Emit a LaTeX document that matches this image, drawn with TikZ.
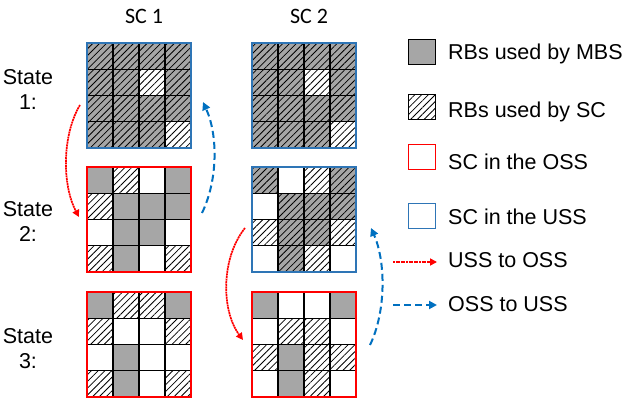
\documentclass[tikz,border=0pt]{standalone}
\usepackage{fontspec}
\setmainfont{Liberation Sans}
\newfontfamily\calib{Carlito}
\usetikzlibrary{patterns.meta,arrows.meta}
\definecolor{mbsgray}{HTML}{A6A6A6}
\definecolor{ussblue}{HTML}{2E75B6}
\definecolor{arrblue}{HTML}{0070C0}
\definecolor{ossred}{HTML}{FF0000}
\tikzset{
  cG/.style={fill=mbsgray},
  cH/.style={pattern={Lines[angle=45,distance=4.8pt,line width=0.8pt]}},
  cX/.style={preaction={fill=mbsgray},pattern={Lines[angle=45,distance=4.8pt,line width=0.8pt]}},
  cW/.style={},
  cellline/.style={draw=black,line width=1.3pt},
  gridbox/.style={rectangle,inner sep=0pt,minimum width=104pt,minimum height=105pt,line width=2pt},
  legbox/.style={rectangle,inner sep=0pt,minimum width=27pt,minimum height=25pt,line width=1pt},
  txt/.style={inner sep=0pt,font=\fontsize{21.5}{25}\selectfont},
  hdr/.style={inner sep=0pt,font=\calib\fontsize{22}{26}\selectfont},
  usstooss/.style={draw=ossred,line width=1.7pt,dash pattern=on 2pt off 0.6pt,-{Triangle[length=7pt,width=7pt]}},
  osstouss/.style={draw=arrblue,line width=2pt,dash pattern=on 7pt off 4pt,-{Triangle[length=8pt,width=8pt]}}
}
\def\cellpath#1{\path[c#1]}
\newcommand\drawgrid[5]{%
  \foreach \ty [count=\ii from 0] in {#5} {
    \pgfmathtruncatemacro\cc{mod(\ii,4)}
    \pgfmathtruncatemacro\rr{int(\ii/4)}
    \expandafter\cellpath\expandafter{\ty} ({#2+26*\cc},{#3+26.25*\rr}) rectangle ++(26,26.25);
  }
  \foreach \kk in {1,2,3} {
    \draw[cellline] ({#2+26*\kk},#3) -- ++(0,105);
    \draw[cellline] (#2,{#3+26.25*\kk}) -- ++(104,0);
  }
  \node[gridbox,draw=#4] (#1) at ({#2+52},{#3+52.5}) {};
}
\begin{document}
\begin{tikzpicture}[x=1pt,y=-1pt]
\useasboundingbox[fill=white] (0,0) rectangle (625,401);
% headers
\node[hdr,anchor=base] (h1) at (144,24) {SC 1};
\node[hdr,anchor=base] (h2) at (309,24) {SC 2};
% state labels
\node[txt,align=center,anchor=base] (s1) at (28,110) {State\\1:};
\node[txt,align=center,anchor=base] (s2) at (28,242) {State\\2:};
\node[txt,align=center,anchor=base] (s3) at (28,369) {State\\3:};
% grids
\drawgrid{g11}{87}{43}{ussblue}{X,X,X,X, X,X,H,X, X,X,X,X, X,X,X,H}
\drawgrid{g12}{252}{43}{ussblue}{X,X,X,X, X,X,H,X, X,X,X,X, X,X,X,H}
\drawgrid{g21}{87}{167}{ossred}{G,H,W,G, H,G,G,G, W,G,G,W, H,G,W,H}
\drawgrid{g22}{252}{167}{ussblue}{X,W,H,X, W,X,X,X, H,X,X,H, W,X,H,W}
\drawgrid{g31}{87}{292}{ossred}{G,H,H,G, H,W,W,H, W,G,W,W, H,G,W,H}
\drawgrid{g32}{252}{292}{ossred}{G,W,W,G, W,H,H,W, H,G,H,H, W,G,H,W}
% transition arrows
\coordinate (a1s) at (80,105);   \coordinate (a1e) at (79,217);
\coordinate (b1s) at (202,213);  \coordinate (b1e) at (203,102);
\coordinate (a2s) at (245,228);  \coordinate (a2e) at (243,340);
\coordinate (b2s) at (370,345);  \coordinate (b2e) at (371,228);
\draw[usstooss] (a1s) .. controls (62,135) and (62,185) .. (a1e);
\draw[osstouss] (b1s) .. controls (218,180) and (218,135) .. (b1e);
\draw[usstooss] (a2s) .. controls (221,258) and (221,310) .. (a2e);
\draw[osstouss] (b2s) .. controls (386,312) and (386,262) .. (b2e);
% legend
\node[legbox,draw=black,fill=mbsgray] (l1) at (421.5,52.5) {};
\node[legbox,draw=black,pattern={Lines[angle=45,distance=4.8pt,line width=0.8pt]}] (l2) at (421.5,107) {};
\node[legbox,draw=ossred] (l3) at (421.5,157.5) {};
\node[legbox,draw=ussblue] (l4) at (421.5,216) {};
\coordinate (l5s) at (393,262); \coordinate (l5e) at (437,262);
\coordinate (l6s) at (393,305); \coordinate (l6e) at (437,305);
\draw[usstooss] (l5s) -- (l5e);
\draw[osstouss] (l6s) -- (l6e);
\node[txt,anchor=base west] (t1) at (448,60) {RBs used by MBS};
\node[txt,anchor=base west] (t2) at (448,118) {RBs used by SC};
\node[txt,anchor=base west] (t3) at (448,170) {SC in the OSS};
\node[txt,anchor=base west] (t4) at (448,225) {SC in the USS};
\node[txt,anchor=base west] (t5) at (448,268) {USS to OSS};
\node[txt,anchor=base west] (t6) at (448,312) {OSS to USS};
\end{tikzpicture}
\end{document}
